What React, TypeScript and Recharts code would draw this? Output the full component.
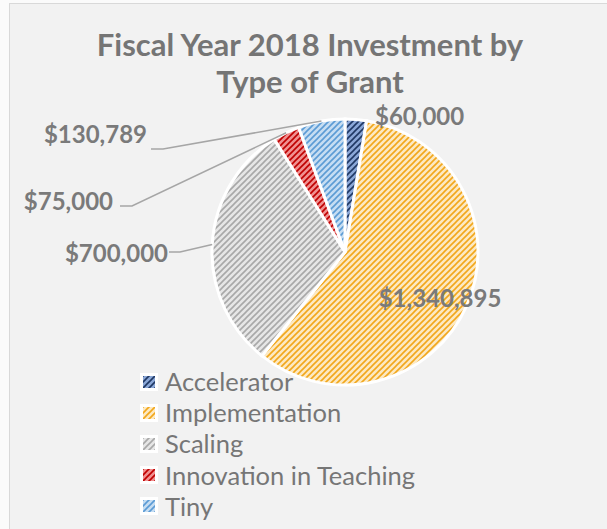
import React from 'react';
import { PieChart, Pie, Cell } from 'recharts';

const categories = ['Accelerator', 'Implementation', 'Scaling', 'Innovation in Teaching', 'Tiny'];
const amounts = [60000, 1340895, 700000, 75000, 130789];
const titleLines = ['Fiscal Year 2018 Investment by', 'Type of Grant'];

const data = categories.map((name, i) => ({ name, value: amounts[i] }));

const patternColors = [
  { bg: '#8aa7d8', fg: '#1f3864' },
  { bg: '#fde9c2', fg: '#f2a71b' },
  { bg: '#e6e6e6', fg: '#a8a8a8' },
  { bg: '#f09090', fg: '#c00000' },
  { bg: '#c6ddf2', fg: '#5b9bd5' },
];

// label placement relative to pie centre
const labelLayout = [
  { x: 30, y: -137, anchor: 'start' },
  { x: 95, y: 45, anchor: 'middle' },
  { x: -177, y: 0, anchor: 'end', line: { x1: -176, x2: -165, y: 0 } },
  { x: -232, y: -52, anchor: 'end', line: { x1: -225, x2: -213, y: -46 } },
  { x: -198, y: -119, anchor: 'end', line: { x1: -194, x2: -182, y: -103 } },
];

const RAD = Math.PI / 180;
const FONT = 'Lato, "Open Sans", sans-serif';

const renderLabel = (props: any) => {
  const { cx, cy, midAngle, outerRadius, index, value } = props;
  const L = labelLayout[index];
  const ex = cx + outerRadius * Math.cos(-midAngle * RAD);
  const ey = cy + outerRadius * Math.sin(-midAngle * RAD);
  const text = '$' + Number(value).toLocaleString('en-US');
  return (
    <g key={'lbl' + index}>
      {L.line && (
        <polyline
          points={`${cx + L.line.x1},${cy + L.line.y} ${cx + L.line.x2},${cy + L.line.y} ${ex},${ey}`}
          fill="none"
          stroke="#a6a6a6"
          strokeWidth={1.5}
        />
      )}
      <text
        x={cx + L.x}
        y={cy + L.y}
        textAnchor={L.anchor}
        dominantBaseline="central"
        fill="#7a7a7a"
        fontFamily={FONT}
        fontWeight={700}
        fontSize={24}
      >
        {text}
      </text>
    </g>
  );
};

export default function App() {
  return (
    <div style={{ position: 'absolute', left: 0, top: 0, width: 607, height: 529, overflow: 'hidden', background: '#fbfbfb' }}>
      <div
        style={{
          position: 'absolute',
          left: 9,
          top: 3,
          width: 640,
          height: 560,
          background: '#f2f2f2',
          border: '1.5px solid #d9d9d9',
        }}
      />
      <div
        style={{
          position: 'absolute',
          left: 0,
          top: 26,
          width: 620,
          textAlign: 'center',
          fontFamily: FONT,
          fontWeight: 700,
          fontSize: 31,
          lineHeight: '37px',
          color: '#757575',
        }}
      >
        {titleLines.map((t, i) => (
          <div key={i}>{t}</div>
        ))}
      </div>
      <div style={{ position: 'absolute', left: 0, top: 0 }}>
        <PieChart width={607} height={529} margin={{ top: 0, right: 0, bottom: 0, left: 0 }}>
          <defs>
            {patternColors.map((c, i) => (
              <pattern key={i} id={`pat${i}`} patternUnits="userSpaceOnUse" width={6} height={6}>
                <rect width={6} height={6} fill={c.bg} />
                <path d="M0,6 L6,0 M-1.5,1.5 L1.5,-1.5 M4.5,7.5 L7.5,4.5" stroke={c.fg} strokeWidth={1.6} />
              </pattern>
            ))}
          </defs>
          <Pie
            data={data}
            dataKey="value"
            nameKey="name"
            cx={345}
            cy={252}
            outerRadius={133}
            startAngle={90}
            endAngle={-270}
            stroke="#ffffff"
            strokeWidth={3}
            label={renderLabel}
            labelLine={false}
            isAnimationActive={false}
          >
            {data.map((d, i) => (
              <Cell key={d.name} fill={`url(#pat${i})`} />
            ))}
          </Pie>
        </PieChart>
      </div>
      <div style={{ position: 'absolute', left: 140, top: 366, fontFamily: FONT }}>
        {categories.map((name, i) => (
          <div key={name} style={{ display: 'flex', alignItems: 'center', height: 31.2 }}>
            <svg width={18} height={18} style={{ marginRight: 7 }}>
              <rect x={0} y={0} width={18} height={18} fill="#ffffff" />
              <rect x={3} y={3} width={12} height={12} fill={`url(#pat${i})`} />
            </svg>
            <span style={{ fontSize: 25.5, color: '#767676', lineHeight: '31px', whiteSpace: 'nowrap' }}>{name}</span>
          </div>
        ))}
      </div>
    </div>
  );
}
